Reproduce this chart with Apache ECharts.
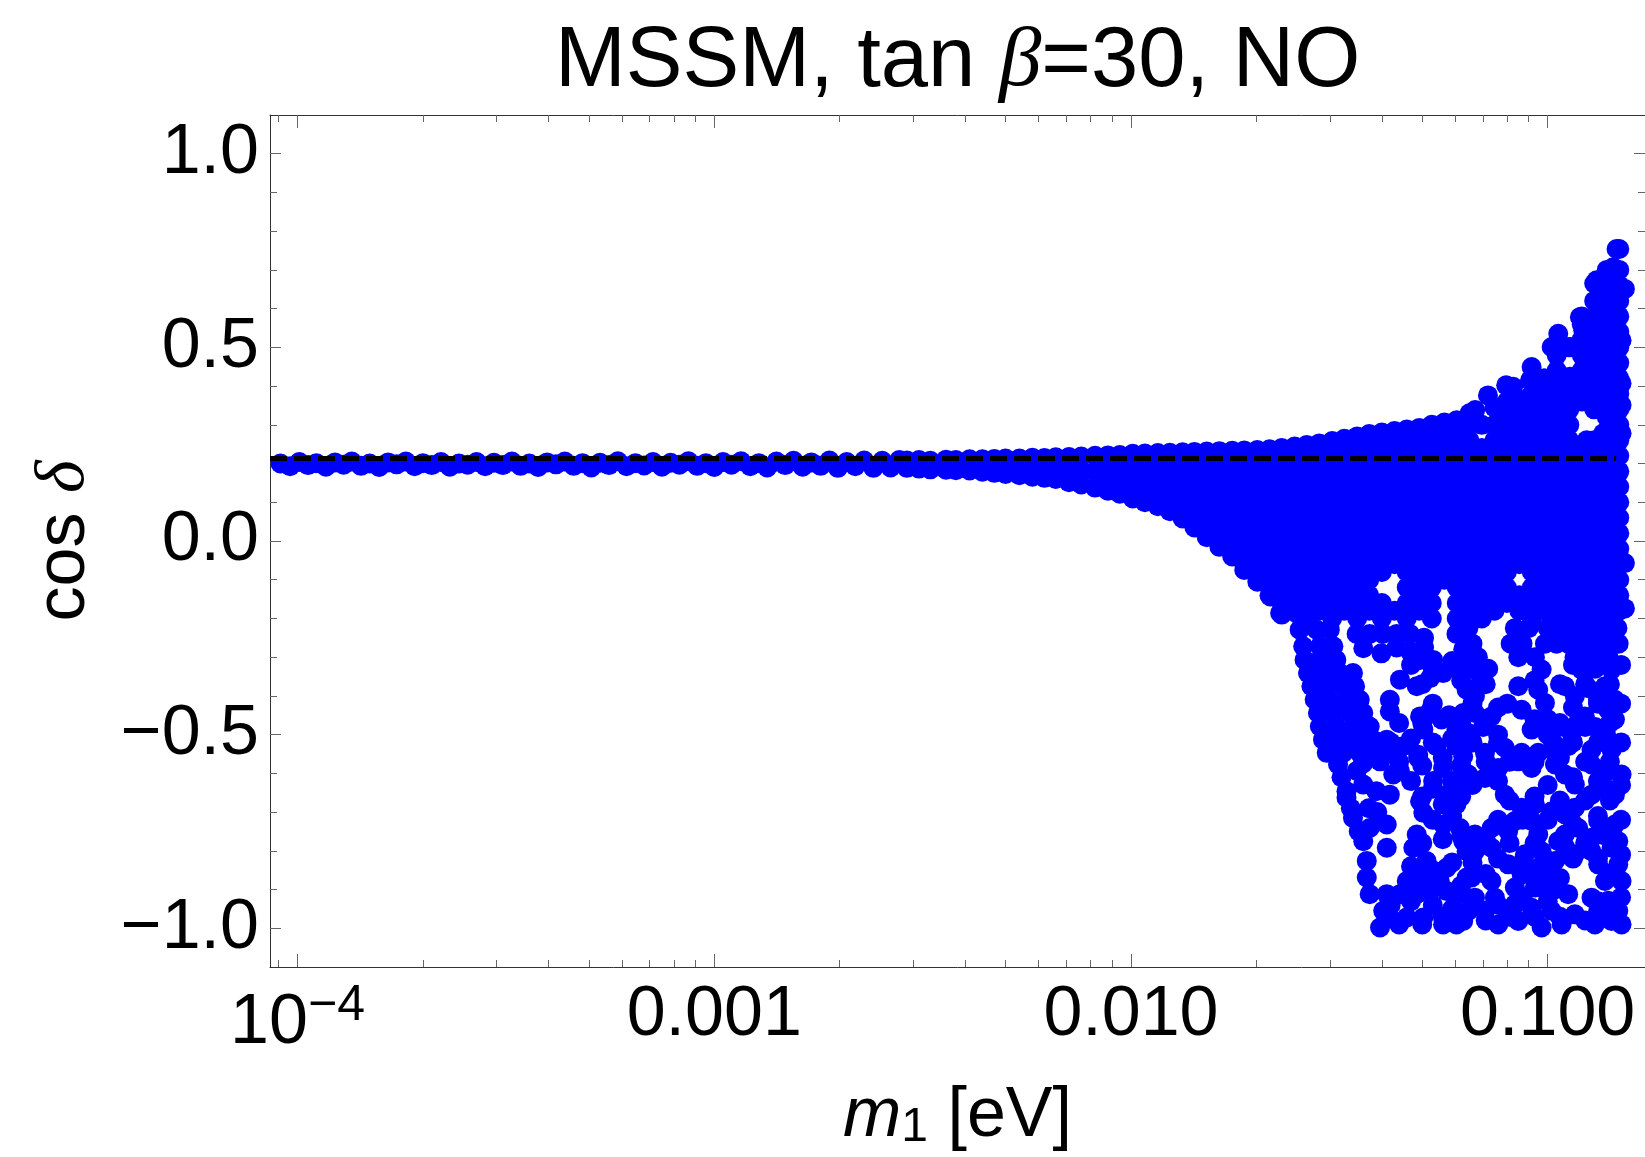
<!DOCTYPE html>
<html>
<head>
<meta charset="utf-8">
<script src="https://cdn.jsdelivr.net/npm/echarts@6/dist/echarts.min.js"></script>
<style>
  html, body { margin: 0; padding: 0; background: #fff; }
  #chart { width: 1645px; height: 1157px; }
</style>
</head>
<body>
<div id="chart"></div>
<script>
// axis ranges and ticks
const xMin = 8.59e-5, xMax = 0.1712;
const yMin = -1.1, yMax = 1.1;
const xMajor = [1e-4, 1e-3, 1e-2, 1e-1];
const xMinor = [9e-5, 2e-4, 3e-4, 4e-4, 5e-4, 6e-4, 7e-4, 8e-4, 9e-4,
  0.002, 0.003, 0.004, 0.005, 0.006, 0.007, 0.008, 0.009,
  0.02, 0.03, 0.04, 0.05, 0.06, 0.07, 0.08, 0.09];
const xLabels = { "-4": "{b|10}{s|\u22124}", "-3": "0.001", "-2": "0.010", "-1": "0.100" };
const yMajor = [-1, -0.5, 0, 0.5, 1];
const yMinor = [-1.0, -0.9, -0.8, -0.7, -0.6, -0.5, -0.4, -0.3, -0.2, -0.1, 0,
  0.1, 0.2, 0.3, 0.4, 0.5, 0.6, 0.7, 0.8, 0.9, 1.0];

// dashed reference line
const refCos = 0.213;
const refM1 = [xMin, 0.146];

// flat band, m1 < 0.003 eV  [m1, cos delta]
const bandPts = [
  [9.1e-5,0.200],[9.6e-5,0.193],[1.01e-4,0.204],[1.06e-4,0.196],[1.11e-4,0.201],[1.17e-4,0.192],
  [1.23e-4,0.203],[1.29e-4,0.197],[1.35e-4,0.205],[1.42e-4,0.194],[1.49e-4,0.200],[1.57e-4,0.191],
  [1.65e-4,0.203],[1.73e-4,0.198],[1.82e-4,0.205],[1.91e-4,0.193],[2.00e-4,0.201],[2.10e-4,0.196],
  [2.21e-4,0.204],[2.32e-4,0.192],[2.44e-4,0.200],[2.56e-4,0.197],[2.69e-4,0.204],[2.82e-4,0.193],
  [2.96e-4,0.202],[3.11e-4,0.196],[3.27e-4,0.205],[3.43e-4,0.194],[3.60e-4,0.200],[3.78e-4,0.191],
  [3.97e-4,0.203],[4.17e-4,0.198],[4.38e-4,0.205],[4.60e-4,0.194],[4.83e-4,0.201],[5.07e-4,0.190],
  [5.32e-4,0.202],[5.59e-4,0.196],[5.87e-4,0.206],[6.16e-4,0.193],[6.47e-4,0.201],[6.79e-4,0.195],
  [7.13e-4,0.204],[7.49e-4,0.192],[7.86e-4,0.202],[8.25e-4,0.197],[8.67e-4,0.206],[9.10e-4,0.194],
  [9.55e-4,0.201],[1.00e-3,0.191],[1.05e-3,0.204],[1.10e-3,0.197],[1.16e-3,0.206],[1.22e-3,0.193],
  [1.28e-3,0.201],[1.34e-3,0.190],[1.41e-3,0.205],[1.48e-3,0.196],[1.55e-3,0.207],[1.63e-3,0.192],
  [1.71e-3,0.203],[1.80e-3,0.194],[1.89e-3,0.208],[1.98e-3,0.189],[2.08e-3,0.204],[2.18e-3,0.193],
  [2.29e-3,0.208],[2.41e-3,0.189],[2.53e-3,0.207],[2.65e-3,0.190],[2.78e-3,0.209]
];

// filled fan and block, one m1 column with its cos delta values
const fanCols = [
  [0.0029, [0.208, 0.189]],
  [0.0031, [0.209, 0.187]],
  [0.0033, [0.207, 0.185]],
  [0.0036, [0.210, 0.184]],
  [0.0038, [0.209, 0.183]],
  [0.0041, [0.211, 0.182]],
  [0.0044, [0.211, 0.179]],
  [0.0047, [0.212, 0.194, 0.176]],
  [0.0050, [0.213, 0.193, 0.173]],
  [0.0054, [0.213, 0.190, 0.170]],
  [0.0058, [0.215, 0.190, 0.166]],
  [0.0062, [0.214, 0.188, 0.163]],
  [0.0066, [0.216, 0.190, 0.160]],
  [0.0071, [0.217, 0.185, 0.152]],
  [0.0076, [0.218, 0.182, 0.146]],
  [0.0082, [0.220, 0.180, 0.138]],
  [0.0088, [0.221, 0.200, 0.160, 0.130]],
  [0.0094, [0.222, 0.180, 0.140, 0.122]],
  [0.0101, [0.225, 0.200, 0.160, 0.120, 0.110]],
  [0.0108, [0.226, 0.180, 0.140, 0.100]],
  [0.0116, [0.227, 0.200, 0.160, 0.120, 0.090]],
  [0.0124, [0.228, 0.205, 0.180, 0.140, 0.100, 0.077]],
  [0.0133, [0.229, 0.200, 0.160, 0.120, 0.080, 0.058]],
  [0.0142, [0.230, 0.205, 0.180, 0.140, 0.100, 0.060, 0.035]],
  [0.0152, [0.231, 0.200, 0.160, 0.120, 0.080, 0.040, 0.010]],
  [0.0163, [0.232, 0.205, 0.180, 0.140, 0.100, 0.060, 0.020, -0.015]],
  [0.0175, [0.233, 0.200, 0.160, 0.120, 0.080, 0.040, 0.000, -0.040]],
  [0.0187, [0.234, 0.205, 0.180, 0.140, 0.100, 0.060, 0.020, -0.020, -0.060, -0.075]],
  [0.0201, [0.235, 0.20, 0.16, 0.12, 0.08, 0.04, 0.0, -0.04, -0.08, -0.105]],
  [0.0215, [0.237, 0.22, 0.18, 0.14, 0.10, 0.06, 0.02, -0.02, -0.06, -0.10, -0.14]],
  [0.0230, [0.240, 0.20, 0.16, 0.12, 0.08, 0.04, 0.0, -0.04, -0.08, -0.12, -0.16, -0.19]],
  [0.0247, [0.244, 0.22, 0.18, 0.14, 0.10, 0.06, 0.02, -0.02, -0.06, -0.10, -0.14, -0.18]],
  [0.0264, [0.248, 0.20, 0.16, 0.12, 0.08, 0.04, 0.0, -0.04, -0.08, -0.12, -0.16, -0.20]],
  [0.0283, [0.252, 0.22, 0.18, 0.14, 0.10, 0.06, 0.02, -0.02, -0.06, -0.10, -0.14, -0.18]],
  [0.0304, [0.258, 0.24, 0.20, 0.16, 0.12, 0.08, 0.04, 0.0, -0.04, -0.08, -0.12, -0.16, -0.20]],
  [0.0325, [0.264, 0.22, 0.18, 0.14, 0.10, 0.06, 0.02, -0.02, -0.06, -0.10, -0.14, -0.18]],
  [0.0349, [0.270, 0.24, 0.20, 0.16, 0.12, 0.08, 0.04, 0.0, -0.04, -0.08, -0.12, -0.16, -0.20]],
  [0.0373, [0.276, 0.26, 0.22, 0.18, 0.14, 0.10, 0.06, 0.02, -0.02, -0.06, -0.10, -0.14, -0.18]],
  [0.0400, [0.280, 0.24, 0.20, 0.16, 0.12, 0.08, 0.04, 0.0, -0.04, -0.08, -0.16, -0.20]],
  [0.0429, [0.284, 0.26, 0.22, 0.18, 0.14, 0.10, 0.06, 0.02, -0.02, -0.06, -0.18]],
  [0.0459, [0.288, 0.24, 0.20, 0.16, 0.12, 0.08, 0.04, 0.0, -0.04, -0.08, -0.12, -0.16, -0.20]],
  [0.0492, [0.292, 0.26, 0.22, 0.18, 0.14, 0.10, 0.06, 0.02, -0.02, -0.06, -0.10, -0.14, -0.18]],
  [0.0527, [0.300, 0.28, 0.24, 0.20, 0.16, 0.12, 0.08, 0.04, 0.0, -0.04, -0.08, -0.12, -0.16, -0.20]],
  [0.0565, [0.306, 0.26, 0.22, 0.18, 0.14, 0.10, 0.06, 0.02, -0.02, -0.06, -0.10]],
  [0.0605, [0.312, 0.28, 0.24, 0.20, 0.16, 0.12, 0.08, 0.04, 0.0, -0.04, -0.08, -0.12, -0.16, -0.20]],
  [0.0649, [0.330, 0.30, 0.26, 0.22, 0.18, 0.14, 0.10, 0.06, 0.02, -0.02, -0.06, -0.10, -0.14, -0.18]],
  [0.0695, [0.300, 0.24, 0.20, 0.16, 0.12, 0.08, 0.04, 0.0, -0.04, -0.08, -0.12, -0.16, -0.20]],
  [0.0745, [0.345, 0.30, 0.26, 0.22, 0.18, 0.14, 0.10, 0.06, 0.02, -0.02, -0.06, -0.10, -0.14, -0.18]],
  [0.0798, [0.360, 0.32, 0.28, 0.24, 0.20, 0.16, 0.12, 0.08, 0.04, 0.0, -0.04, -0.08, -0.12, -0.16]],
  [0.0855, [0.365, 0.34, 0.30, 0.26, 0.22, 0.18, 0.14, 0.10, 0.06, 0.02, -0.02, -0.06, -0.14, -0.18]],
  [0.0916, [0.380, 0.36, 0.32, 0.28, 0.24, 0.20, 0.16, 0.12, 0.08, 0.04, 0.0, -0.04, -0.08, -0.12, -0.16, -0.20]],
  [0.0981, [0.420, 0.38, 0.34, 0.30, 0.26, 0.22, 0.18, 0.14, 0.10, 0.06, 0.02, -0.02, -0.06, -0.10, -0.14, -0.18]],
  [0.1051, [0.480, 0.44, 0.40, 0.36, 0.32, 0.28, 0.24, 0.20, 0.16, 0.12, 0.08, 0.04, 0.0, -0.04, -0.08, -0.12, -0.16, -0.20]],
  [0.1127, [0.500, 0.42, 0.38, 0.34, 0.30, 0.26, 0.22, 0.18, 0.14, 0.10, 0.06, 0.02, -0.02, -0.06, -0.10, -0.14, -0.18]],
  [0.1207, [0.580, 0.56, 0.52, 0.48, 0.44, 0.40, 0.36, 0.24, 0.20, 0.16, 0.12, 0.08, 0.04, 0.0, -0.04, -0.08, -0.12, -0.16, -0.20]],
  [0.1293, [0.665, 0.62, 0.58, 0.54, 0.50, 0.46, 0.42, 0.38, 0.34, 0.26, 0.22, 0.18, 0.14, 0.10, 0.06, 0.02, -0.02, -0.06, -0.10, -0.14, -0.18]],
  [0.1386, [0.700, 0.68, 0.64, 0.60, 0.56, 0.48, 0.44, 0.40, 0.36, 0.32, 0.28, 0.24, 0.20, 0.16, 0.12, 0.08, 0.04, 0.0, -0.04, -0.08, -0.12, -0.16, -0.20]],
  [0.1485, [0.754, 0.70, 0.66, 0.62, 0.58, 0.54, 0.50, 0.46, 0.42, 0.38, 0.34, 0.30, 0.26, 0.22, 0.18, 0.14, 0.10, 0.06, 0.02, -0.02, -0.06, -0.10, -0.14, -0.18]]
];

// steep left edge going down to cos delta = -1
const wedgePts = [
  [0.0203,-0.100],[0.0221,-0.100],[0.0240,-0.100],
  [0.0216,-0.143],[0.0227,-0.143],[0.0244,-0.143],
  [0.0228,-0.186],[0.0249,-0.186],[0.0269,-0.186],
  [0.0254,-0.229],[0.0279,-0.229],[0.0300,-0.229],
  [0.0259,-0.272],[0.0284,-0.272],[0.0306,-0.272],
  [0.0261,-0.307],[0.0284,-0.307],[0.0311,-0.307],
  [0.0266,-0.341],[0.0289,-0.341],[0.0317,-0.341],[0.0341,-0.341],
  [0.0271,-0.375],[0.0295,-0.375],[0.0323,-0.375],[0.0345,-0.375],
  [0.0276,-0.410],[0.0300,-0.410],[0.0329,-0.410],[0.0354,-0.410],
  [0.0281,-0.444],[0.0306,-0.444],[0.0335,-0.444],[0.0361,-0.444],
  [0.0284,-0.479],[0.0311,-0.479],[0.0341,-0.479],[0.0374,-0.479],
  [0.0289,-0.513],[0.0317,-0.513],[0.0348,-0.513],[0.0381,-0.513],[0.0411,-0.513],
  [0.0295,-0.547],[0.0323,-0.547],[0.0354,-0.547],[0.0388,-0.547],[0.0426,-0.547],
  [0.0314,-0.577],[0.0348,-0.594],[0.0360,-0.575],[0.0396,-0.569],[0.0320,-0.610],[0.0361,-0.629],
  [0.0426,-0.603],[0.0442,-0.594],[0.0329,-0.646],[0.0388,-0.646],[0.0418,-0.655],[0.0329,-0.663],
  [0.0337,-0.690],[0.0372,-0.690],[0.0390,-0.700],[0.0341,-0.715],[0.0411,-0.732],[0.0374,-0.741],
  [0.0352,-0.750],[0.0361,-0.775],[0.0411,-0.792],[0.0368,-0.826],[0.0368,-0.869],[0.0374,-0.912],
  [0.0403,-0.955],[0.0396,-0.998]
];

// scattered points, m1 below about 0.064 eV
const lowerLeftPts = [
  [0.0348,-0.240],[0.0374,-0.240],[0.0402,-0.240],[0.0434,-0.240],[0.0467,-0.240],[0.0505,-0.250],
  [0.0604,-0.240],[0.0627,-0.280],[0.0639,-0.320],[0.0434,-0.275],[0.0467,-0.285],[0.0505,-0.275],
  [0.0361,-0.277],[0.0399,-0.290],[0.0494,-0.307],[0.0531,-0.307],[0.0442,-0.358],[0.0485,-0.375],
  [0.0522,-0.354],[0.0561,-0.341],[0.0616,-0.332],[0.0418,-0.410],[0.0418,-0.440],[0.0494,-0.453],
  [0.0522,-0.440],[0.0556,-0.461],[0.0503,-0.487],[0.0604,-0.487],[0.0627,-0.444],[0.0639,-0.384],
  [0.0450,-0.530],[0.0489,-0.552],[0.0541,-0.530],[0.0604,-0.530],[0.0627,-0.556],
  [0.0489,-0.560],[0.0561,-0.586],[0.0531,-0.620],[0.0572,-0.655],[0.0627,-0.620],[0.0604,-0.680],
  [0.0494,-0.672],[0.0503,-0.702],[0.0485,-0.758],[0.0476,-0.792],[0.0561,-0.732],[0.0616,-0.741],
  [0.0627,-0.775],[0.0639,-0.801],[0.0512,-0.826],[0.0572,-0.844],[0.0551,-0.878],[0.0639,-0.869],
  [0.0411,-0.912],[0.0459,-0.878],[0.0442,-0.912],[0.0485,-0.912],[0.0522,-0.904],[0.0572,-0.904],
  [0.0616,-0.912],[0.0418,-0.972],[0.0459,-0.972],[0.0503,-0.972],[0.0561,-0.990],[0.0604,-0.990],
  [0.0627,-0.981],
  [0.047,-0.32],[0.053,-0.33],[0.059,-0.31],[0.050,-0.37],[0.062,-0.36],[0.053,-0.42],[0.058,-0.45],
  [0.044,-0.47],[0.050,-0.47],[0.062,-0.47],[0.042,-0.52],[0.047,-0.51],[0.053,-0.52],[0.059,-0.51],
  [0.044,-0.57],[0.050,-0.58],[0.056,-0.56],[0.062,-0.58],[0.047,-0.62],[0.053,-0.64],[0.059,-0.62],
  [0.050,-0.66],[0.056,-0.68],[0.062,-0.66],[0.053,-0.72],[0.059,-0.71],[0.050,-0.78],[0.056,-0.77],
  [0.062,-0.76],[0.047,-0.84],[0.053,-0.85],[0.059,-0.83],[0.050,-0.87],[0.062,-0.89],[0.042,-0.94],
  [0.047,-0.93],[0.053,-0.94],[0.059,-0.95],[0.044,-0.99],[0.050,-0.99],[0.056,-0.97],[0.062,-0.97]
];

// scattered points, m1 above about 0.064 eV
const lowerRightPts = [
  [0.0645,-0.225],[0.0834,-0.225],[0.0900,-0.225],[0.1000,-0.225],[0.1060,-0.225],[0.1120,-0.225],
  [0.1190,-0.225],[0.1260,-0.225],[0.1330,-0.225],[0.1400,-0.225],[0.1470,-0.225],
  [0.0660,-0.265],[0.0815,-0.265],[0.0870,-0.265],[0.0985,-0.265],[0.1050,-0.265],[0.1120,-0.265],
  [0.1190,-0.265],[0.1260,-0.265],[0.1330,-0.265],[0.1420,-0.265],[0.1480,-0.265],
  [0.0680,-0.300],[0.0850,-0.300],[0.0932,-0.300],[0.1160,-0.300],[0.1240,-0.300],[0.1320,-0.300],
  [0.1400,-0.300],
  [0.0669,-0.332],[0.0682,-0.375],[0.0850,-0.375],[0.0967,-0.332],[0.0949,-0.384],[0.1100,-0.375],
  [0.1162,-0.401],[0.1206,-0.332],[0.1372,-0.375],[0.1450,-0.410],[0.1423,-0.332],[0.0720,-0.330],
  [0.1250,-0.380],[0.1300,-0.330],
  [0.0669,-0.444],[0.0733,-0.453],[0.0866,-0.436],[0.0915,-0.487],[0.0985,-0.418],[0.1080,-0.479],
  [0.1141,-0.496],[0.1228,-0.453],[0.1397,-0.436],[0.1450,-0.461],[0.0669,-0.400],[0.0700,-0.480],
  [0.0760,-0.500],[0.0800,-0.420],[0.1000,-0.460],[0.1030,-0.520],[0.1180,-0.470],[0.1300,-0.480],
  [0.1320,-0.420],[0.1380,-0.500],
  [0.0645,-0.496],[0.0707,-0.547],[0.0789,-0.534],[0.0866,-0.547],[0.0949,-0.547],[0.1041,-0.547],
  [0.1120,-0.530],[0.1274,-0.539],[0.1423,-0.539],
  [0.0645,-0.603],[0.0707,-0.612],[0.0761,-0.586],[0.0850,-0.569],[0.0915,-0.586],[0.1041,-0.577],
  [0.1162,-0.629],[0.1274,-0.577],[0.1397,-0.594],[0.1450,-0.655],[0.1100,-0.603],[0.1274,-0.655],
  [0.1372,-0.637],[0.1504,-0.603],
  [0.0789,-0.655],[0.0866,-0.689],[0.0932,-0.680],[0.1022,-0.698],[0.0834,-0.723],[0.0915,-0.723],
  [0.0669,-0.758],[0.0733,-0.741],[0.0804,-0.749],[0.0669,-0.801],[0.0733,-0.792],
  [0.1100,-0.706],[0.1162,-0.689],[0.1322,-0.723],[0.1450,-0.732],[0.1347,-0.758],[0.1477,-0.775],
  [0.0949,-0.758],[0.1060,-0.775],[0.0967,-0.801],[0.1184,-0.741],[0.1274,-0.766],[0.1100,-0.758],
  [0.0657,-0.869],[0.0733,-0.878],[0.0804,-0.835],[0.0866,-0.861],[0.0949,-0.844],[0.1041,-0.826],
  [0.1162,-0.809],[0.1274,-0.801],[0.1423,-0.792],[0.1477,-0.835],[0.1504,-0.878],[0.0882,-0.809],
  [0.1100,-0.809],[0.1322,-0.835],[0.1372,-0.878],[0.1000,-0.869],
  [0.0669,-0.921],[0.0747,-0.921],[0.0834,-0.895],[0.0932,-0.895],[0.1022,-0.904],[0.1120,-0.912],
  [0.1274,-0.921],[0.1397,-0.929],[0.1477,-0.955],[0.0645,-0.955],[0.0707,-0.955],[0.0804,-0.955],
  [0.0915,-0.947],[0.1022,-0.955],[0.1322,-0.955],[0.0834,-0.938],
  [0.0761,-0.990],[0.0850,-0.981],[0.0967,-0.998],[0.1080,-0.990],[0.1162,-0.964],[0.1298,-0.990],
  [0.1423,-0.981],[0.1504,-0.990],
  [0.066,-0.32],[0.115,-0.32],[0.132,-0.32],[0.150,-0.32],
  [0.071,-0.37],[0.093,-0.36],[0.107,-0.37],[0.123,-0.37],[0.141,-0.37],
  [0.066,-0.42],[0.076,-0.43],[0.115,-0.43],[0.132,-0.41],[0.150,-0.42],
  [0.071,-0.47],[0.093,-0.46],[0.107,-0.47],[0.123,-0.48],[0.141,-0.47],
  [0.066,-0.52],[0.076,-0.52],[0.100,-0.50],[0.115,-0.52],[0.132,-0.52],[0.150,-0.52],
  [0.071,-0.57],[0.081,-0.57],[0.093,-0.57],[0.107,-0.56],[0.123,-0.57],[0.141,-0.57],
  [0.066,-0.63],[0.076,-0.62],[0.100,-0.63],[0.115,-0.61],[0.132,-0.62],[0.150,-0.63],
  [0.081,-0.67],[0.093,-0.66],[0.107,-0.67],[0.123,-0.67],[0.141,-0.67],
  [0.076,-0.72],[0.087,-0.72],[0.100,-0.72],[0.115,-0.73],[0.132,-0.71],[0.150,-0.72],
  [0.071,-0.77],[0.081,-0.78],[0.093,-0.78],[0.110,-0.79],[0.123,-0.78],[0.141,-0.77],
  [0.066,-0.83],[0.076,-0.82],[0.087,-0.83],[0.100,-0.84],[0.115,-0.82],[0.132,-0.82],[0.150,-0.81],
  [0.071,-0.86],[0.093,-0.87],[0.107,-0.87],[0.141,-0.86],
  [0.066,-0.94],[0.076,-0.94],[0.087,-0.92],[0.100,-0.93],[0.132,-0.93],[0.150,-0.92],
  [0.071,-0.98],[0.081,-0.97],[0.093,-0.97],[0.107,-0.97],[0.123,-0.98],[0.141,-0.97]
];

// upper spray at large m1
const sprayPts = [
  [0.0670,0.338],[0.0719,0.376],[0.0795,0.402],[0.0826,0.398],[0.0915,0.449],[0.0907,0.415],
  [0.1022,0.501],[0.1060,0.535],[0.1195,0.578],[0.1217,0.544],[0.1310,0.673],[0.1335,0.630],
  [0.1436,0.707],[0.1463,0.754],[0.1504,0.651],[0.1463,0.583],[0.1504,0.518],[0.1463,0.432],
  [0.1504,0.407],[0.1504,0.351],[0.1504,0.278],[0.1477,0.175],[0.1335,0.570],[0.1359,0.518],
  [0.1335,0.475],[0.1385,0.406],[0.1335,0.381],[0.1217,0.475],[0.1131,0.501],[0.1131,0.424],
  [0.1240,0.398],[0.1217,0.363],[0.1359,0.278],[0.1240,0.260],[0.1110,0.346],[0.1070,0.295],
  [0.1012,0.406],[0.0976,0.363],[0.0923,0.321],[0.0842,0.363],[0.0782,0.346],[0.0898,0.260],
  [0.1532,0.651],[0.1532,-0.057],[0.1532,-0.174]
];

const FONT = "Liberation Sans, Arial, sans-serif";
const SERIF = "Liberation Serif, Times New Roman, serif";
const lineColor = "#333";
const tickColor = "#666";

const points = bandPts
  .concat(fanCols.flatMap(([m1, cs]) => cs.map((c) => [m1, c])))
  .concat(wedgePts, lowerLeftPts, lowerRightPts, sprayPts);

function xAxisCfg(position, ticks, len, main) {
  return {
    type: "log",
    logBase: 10,
    min: xMin,
    max: xMax,
    position: position,
    gridIndex: 0,
    name: main && position === "bottom" ? "{i|m}{sub|1} [eV]" : "",
    nameLocation: "middle",
    nameGap: 115,
    nameMoveOverlap: false,
    nameTextStyle: {
      fontFamily: FONT, fontSize: 70, color: "#000", lineHeight: 70,
      rich: {
        i: { fontFamily: FONT, fontStyle: "italic", fontSize: 70, lineHeight: 70 },
        sub: { fontFamily: FONT, fontSize: 48, lineHeight: 30, verticalAlign: "bottom" },
      },
    },
    axisLine: { show: main, onZero: false, lineStyle: { color: lineColor, width: 1 } },
    axisTick: {
      show: true, inside: true, length: len, customValues: ticks,
      lineStyle: { color: tickColor, width: 1 },
    },
    minorTick: { show: false },
    splitLine: { show: false },
    axisLabel: {
      show: main && position === "bottom",
      customValues: xMajor,
      margin: 14,
      fontFamily: FONT, fontSize: 70, color: "#000", lineHeight: 70,
      formatter: (v) => xLabels[String(Math.round(Math.log10(v)))] || "",
      rich: {
        b: { fontFamily: FONT, fontSize: 70, lineHeight: 86 },
        s: { fontFamily: FONT, fontSize: 50, lineHeight: 40, verticalAlign: "top" },
      },
    },
  };
}

function yAxisCfg(position, ticks, len, main) {
  return {
    type: "value",
    min: yMin,
    max: yMax,
    position: position,
    gridIndex: 0,
    name: main && position === "left" ? "cos {d|\u03b4}" : "",
    nameLocation: "middle",
    nameRotate: 90,
    nameGap: 170,
    nameMoveOverlap: false,
    nameTextStyle: {
      fontFamily: FONT, fontSize: 70, color: "#000", lineHeight: 70,
      rich: { d: { fontFamily: SERIF, fontStyle: "italic", fontSize: 70, lineHeight: 70 } },
    },
    axisLine: { show: main && position === "left", onZero: false, lineStyle: { color: lineColor, width: 1 } },
    axisTick: {
      show: true, inside: true, length: len, customValues: ticks,
      lineStyle: { color: tickColor, width: 1 },
    },
    splitLine: { show: false },
    axisLabel: {
      show: main && position === "left",
      customValues: yMajor,
      margin: 11,
      fontFamily: FONT, fontSize: 70, color: "#000",
      formatter: (v) => (v < 0 ? "\u2212" : "") + Math.abs(v).toFixed(1),
    },
  };
}

const chart = echarts.init(document.getElementById("chart"), null, { renderer: "canvas" });
chart.setOption({
  animation: false,
  backgroundColor: "#fff",
  title: {
    text: "MSSM, tan {i|\u03b2}=30, NO",
    left: 550,
    top: 15,
    textStyle: {
      fontFamily: FONT, fontSize: 85, fontWeight: "normal", color: "#000",
      rich: { i: { fontFamily: SERIF, fontStyle: "italic", fontSize: 85 } },
    },
  },
  grid: { left: 270, right: 0, top: 115, bottom: 190, containLabel: false, outerBoundsMode: "none" },
  xAxis: [
    xAxisCfg("bottom", xMajor, 13, true),
    xAxisCfg("bottom", xMinor, 7, false),
    xAxisCfg("top", xMajor, 13, true),
    xAxisCfg("top", xMinor, 7, false),
  ],
  yAxis: [
    yAxisCfg("left", yMajor, 11, true),
    yAxisCfg("left", yMinor, 7, false),
    yAxisCfg("right", yMajor, 11, true),
    yAxisCfg("right", yMinor, 7, false),
  ],
  series: [
    {
      name: "points",
      type: "scatter",
      xAxisIndex: 0,
      yAxisIndex: 0,
      symbol: "circle",
      symbolSize: 20,
      itemStyle: { color: "#0000ff", opacity: 1 },
      emphasis: { disabled: true },
      data: points,
    },
    {
      name: "reference",
      type: "line",
      xAxisIndex: 0,
      yAxisIndex: 0,
      symbol: "none",
      z: 5,
      lineStyle: { color: "#000", width: 5, type: [17, 7] },
      data: [[refM1[0], refCos], [refM1[1], refCos]],
    },
  ],
});
</script>
</body>
</html>
